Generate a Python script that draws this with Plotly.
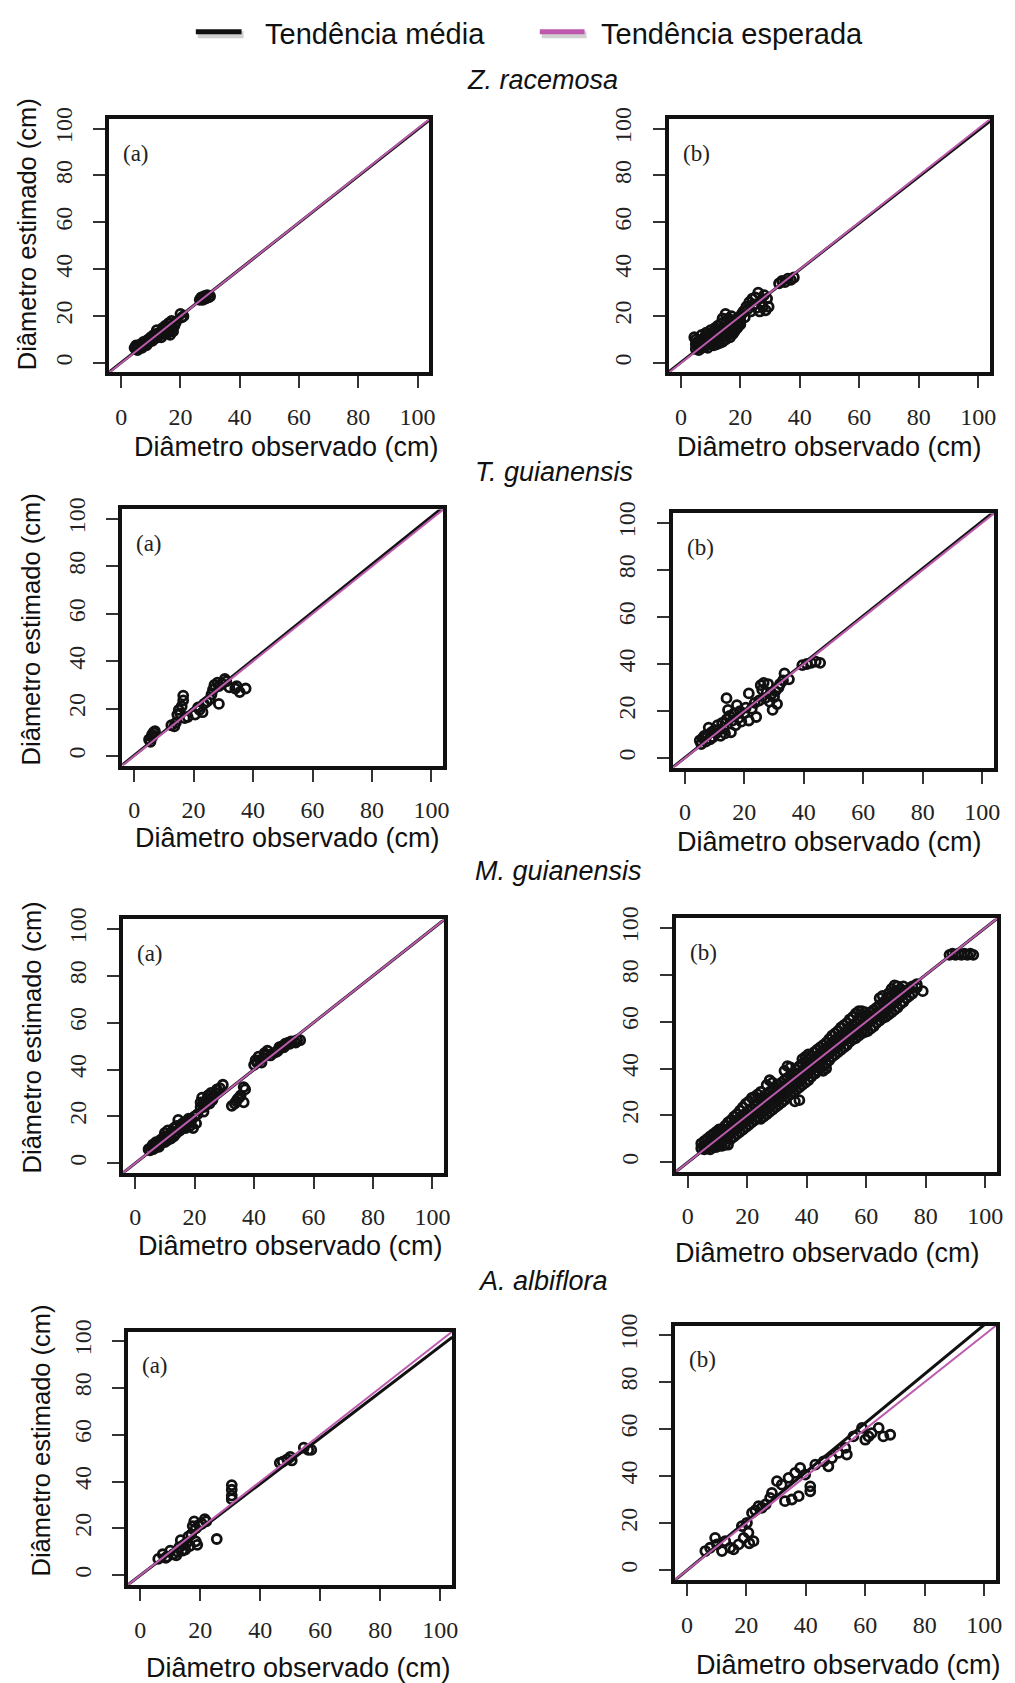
import plotly.graph_objects as go

W, H = 1015, 1683

# ---- observed vs. estimated diameter (cm), one list of (observed, estimated) per panel ----
zr_a = [(4.5, 6.5), (5, 7.5), (5.5, 5.5), (6, 7), (6.5, 8), (7, 6.5), (7.5, 9), (8, 8), (8.5, 7.5),
        (9, 10), (9.5, 9), (10, 11), (10.5, 9.5), (11, 12), (11.5, 10.5), (12, 14), (12, 11), (12.5, 12),
        (13, 13), (13.5, 11), (14, 15), (14.5, 12.5), (15, 16), (15, 13), (15.5, 14), (16, 17), (16.5, 12),
        (16.5, 15), (17, 18), (17.5, 13.5), (18, 16), (18.5, 17.5), (20, 21), (20.5, 19.5), (21, 20),
        (26.5, 27), (27, 28), (28, 28.5), (28.5, 27.5), (29, 29), (30, 28.5),
        (5, 6), (6, 6.5), (7, 8), (8, 9), (9, 8.5), (10, 10), (11, 11), (12, 12.5), (13, 12), (14, 13.5),
        (15, 14.5), (16, 15.5), (17, 16), (18, 17), (16, 13), (17, 14.5), (27.5, 27), (29.5, 28)]

zr_b = [(4.5, 11), (5, 10), (5, 8), (5, 6), (5.5, 9), (6, 7), (6, 5.5), (6.5, 10), (6.5, 8), (7, 12),
        (7, 6.5), (7.5, 9), (8, 11), (8, 7), (8.5, 13), (8.5, 8.5), (9, 10), (9, 6.5), (9.5, 12), (10, 14),
        (10, 8), (10.5, 10.5), (11, 13), (11, 7.5), (11.5, 15), (11.5, 9.5), (12, 12), (12, 8), (12.5, 16),
        (12.5, 10), (13, 14), (13, 8.5), (13.5, 17), (13.5, 11.5), (14, 19), (14, 13), (14, 9), (14.5, 15),
        (15, 21), (15, 17), (15, 10), (15.5, 12), (16, 19), (16, 14), (16.5, 11), (17, 20), (17, 16),
        (17.5, 12.5), (18, 18), (18.5, 14.5), (19, 17), (19.5, 16), (20, 18), (20.5, 21), (21, 22),
        (21.5, 19.5), (22, 24), (22.5, 23), (23, 26), (23.5, 22), (24, 27.5), (24.5, 25), (25, 28),
        (25.5, 23.5), (26, 30), (26.5, 22), (27, 26), (27.5, 24), (28, 29), (28.5, 22.5), (29, 27.5),
        (29.5, 24), (33, 34), (34, 35), (35, 34.5), (36, 36), (37, 35.5), (38, 36.5),
        (6, 9), (7, 8), (7, 10), (8, 9), (8, 8), (9, 8), (9, 12), (10, 9.5), (10, 11), (11, 10), (11, 12),
        (12, 10), (12, 14), (13, 10), (13, 12), (14, 11), (14, 15), (15, 13), (15, 15), (16, 12), (16, 16),
        (17, 13), (17, 18), (18, 15), (18, 13.5), (19, 15), (19, 19), (20, 16.5), (20, 20)]

tg_a = [(5, 7), (5.5, 6), (6, 9), (6, 8), (6.5, 10), (7, 10.5), (12.5, 13), (13.5, 12.5), (14, 14),
        (14.5, 17.5), (15, 19.5), (15.5, 18), (16, 21), (16.5, 23.5), (16.5, 25.5), (17, 16), (18, 16.5),
        (20.5, 17.5), (21.5, 20.5), (22, 19.5), (23, 18.5), (23.5, 22), (24.5, 23), (25.5, 24), (26, 26),
        (26.5, 28), (27, 30), (28, 31), (28.5, 29.5), (28.5, 22), (29.5, 30.5), (30.5, 32.5), (31, 31.5),
        (32, 29), (34, 28.5), (34.5, 29.5), (35.5, 27), (37.5, 28.5)]

tg_b = [(5, 7.5), (5.5, 6), (6, 8.5), (6.5, 9.5), (7, 7), (7.5, 10), (8, 13), (8.5, 8), (9, 11), (9.5, 9),
        (10, 12), (10.5, 10.5), (11, 14), (11.5, 12), (12, 9.5), (12.5, 15), (13, 13), (13.5, 10.5),
        (14, 16.5), (14, 25.5), (14.5, 20.5), (15, 18), (15.5, 11), (16, 16), (16.5, 19), (17, 14),
        (17.5, 22.5), (18, 17), (18.5, 20), (19, 15.5), (20, 19), (20.5, 21.5), (21.5, 27.5), (21.5, 16),
        (22.5, 21), (23.5, 23.5), (24, 17.5), (25, 24.5), (25.5, 31), (26, 29), (26.5, 32), (27, 25.5),
        (27.5, 28), (28, 31.5), (28.5, 24), (29, 27), (29.5, 20.5), (30, 26), (30.5, 28.5), (31, 23),
        (31.5, 30), (32, 31.5), (33, 33), (33.5, 36), (35, 33.5), (39.5, 39.5), (41, 40), (42.5, 40.5),
        (44, 41), (45.5, 40.5)]

mg_a = [(4.5, 6), (5, 5.5), (5.5, 7), (6, 8), (6.5, 6.5), (7, 9), (7.5, 7.5), (8, 8.5), (8.5, 10), (9, 9),
        (9.5, 11), (10, 13), (10, 10), (10.5, 11.5), (11, 14), (11.5, 12), (12, 10.5), (12.5, 13.5),
        (13, 15), (13.5, 12.5), (14, 16), (14.5, 18.5), (15, 14), (15.5, 16.5), (16, 15), (16.5, 17.5),
        (17, 16.5), (17.5, 18), (18, 19), (18.5, 16), (19, 18.5), (19.5, 15), (20, 20), (20.5, 17),
        (21, 21), (22, 24), (22.5, 28), (23, 22), (23, 26), (24, 25), (24.5, 29), (25, 27), (25.5, 30),
        (26, 28.5), (27, 30), (27.5, 31.5), (28.5, 32), (29.5, 33.5), (32.5, 24.5), (33.5, 25.5),
        (34.5, 27.5), (35.5, 29), (36.5, 26), (37, 31.5), (36.5, 32.5), (40, 42), (40.5, 44), (41.5, 45.5),
        (42.5, 43), (43.5, 47), (44.5, 48), (45.5, 46), (46.5, 47), (47.5, 47.5), (48.5, 49.5), (49.5, 50),
        (50.5, 51), (51.5, 51.5), (52.5, 52), (53.5, 52), (54.5, 52.5), (55.5, 52.5),
        (6, 6), (7, 7), (8, 7), (9, 10), (10, 9), (11, 10), (12, 13), (13, 11.5), (14, 13), (15, 15),
        (16, 17), (17, 15), (18, 17), (22, 26), (23, 24), (24, 27), (25, 25.5), (26, 27), (34, 26.5),
        (35, 28), (41, 43), (42, 44), (44, 46), (48, 48), (50, 49.5), (52, 51), (54, 51.5)]

mg_b = [(4.5, 6), (4.5, 8), (5.5, 5.5), (5.5, 7), (5.5, 9), (6.5, 6), (6.5, 8), (6.5, 10), (7.5, 5.5),
        (7.5, 7), (7.5, 9), (7.5, 11), (8.5, 6.5), (8.5, 8), (8.5, 10), (8.5, 12), (9.5, 6.5), (9.5, 9),
        (9.5, 11), (9.5, 13), (10.5, 7), (10.5, 8.5), (10.5, 10), (10.5, 12.5), (10.5, 14), (11.5, 7),
        (11.5, 9), (11.5, 11.5), (11.5, 14), (12.5, 7.5), (12.5, 10), (12.5, 12.5), (12.5, 15.5),
        (13.5, 7.5), (13.5, 11), (13.5, 14), (13.5, 17), (14.5, 10), (14.5, 13), (14.5, 15.5), (14.5, 18),
        (15.5, 11), (15.5, 14), (15.5, 17), (15.5, 19.5), (16.5, 12), (16.5, 15), (16.5, 18), (16.5, 20.5),
        (17.5, 13), (17.5, 16), (17.5, 19), (17.5, 22), (18.5, 14), (18.5, 17), (18.5, 20), (18.5, 23.5),
        (19.5, 15), (19.5, 18), (19.5, 21), (19.5, 25), (20.5, 16), (20.5, 19), (20.5, 22), (20.5, 26),
        (21.5, 17), (21.5, 20), (21.5, 23), (21.5, 27.5), (22.5, 18), (22.5, 21), (22.5, 24), (22.5, 28),
        (23.5, 19), (23.5, 22), (23.5, 25), (23.5, 29), (24.5, 18.5), (24.5, 21), (24.5, 24), (24.5, 27),
        (24.5, 30), (25.5, 19.5), (25.5, 22), (25.5, 25), (25.5, 28), (26.5, 20.5), (26.5, 23), (26.5, 26),
        (26.5, 29), (26.5, 33), (27.5, 21.5), (27.5, 24), (27.5, 27), (27.5, 30), (27.5, 35), (28.5, 22.5),
        (28.5, 25), (28.5, 28), (28.5, 31), (28.5, 34), (29.5, 23.5), (29.5, 26), (29.5, 29), (29.5, 32),
        (30.5, 24.5), (30.5, 27), (30.5, 30), (30.5, 33), (31.5, 25.5), (31.5, 28), (31.5, 31), (31.5, 34),
        (32.5, 26.5), (32.5, 29), (32.5, 32), (32.5, 35), (32.5, 39), (33.5, 28), (33.5, 30.5), (33.5, 33),
        (33.5, 36), (33.5, 41), (34.5, 29), (34.5, 31.5), (34.5, 34), (34.5, 37), (34.5, 40.5), (35.5, 30),
        (35.5, 32.5), (35.5, 35), (35.5, 38), (36.5, 31), (36.5, 34), (36.5, 37), (36.5, 39.5), (37.5, 32),
        (37.5, 35), (37.5, 38), (37.5, 41), (38.5, 33), (38.5, 36), (38.5, 39), (38.5, 42), (38.5, 44),
        (39.5, 34), (39.5, 37), (39.5, 40), (39.5, 43), (39.5, 45), (40.5, 35), (40.5, 38), (40.5, 41),
        (40.5, 44), (40.5, 46), (41.5, 36.5), (41.5, 39.5), (41.5, 42.5), (41.5, 45.5), (42.5, 38),
        (42.5, 41), (42.5, 44), (42.5, 47), (43.5, 39), (43.5, 42), (43.5, 45), (43.5, 48), (44.5, 40),
        (44.5, 43), (44.5, 46), (44.5, 49), (45.5, 41), (45.5, 44), (45.5, 47), (45.5, 50), (46.5, 42),
        (46.5, 45), (46.5, 48), (46.5, 51), (47.5, 43.5), (47.5, 46.5), (47.5, 49.5), (47.5, 52.5),
        (48.5, 45), (48.5, 48), (48.5, 51), (48.5, 54), (49.5, 46), (49.5, 49), (49.5, 52), (49.5, 55),
        (50.5, 47), (50.5, 50), (50.5, 53), (50.5, 56), (51.5, 48), (51.5, 51), (51.5, 54), (51.5, 57.5),
        (52.5, 49), (52.5, 52), (52.5, 55), (52.5, 58.5), (53.5, 50), (53.5, 53), (53.5, 56), (53.5, 59.5),
        (54.5, 51.5), (54.5, 54.5), (54.5, 57.5), (54.5, 61), (55.5, 52.5), (55.5, 55.5), (55.5, 58.5),
        (55.5, 62), (56.5, 53), (56.5, 56.5), (56.5, 59.5), (56.5, 63.5), (57.5, 54), (57.5, 57.5),
        (57.5, 61), (57.5, 64.5), (58.5, 55), (58.5, 58.5), (58.5, 62), (58.5, 64.5), (59.5, 55.5),
        (59.5, 59), (59.5, 62.5), (59.5, 64), (60.5, 56), (60.5, 59.5), (60.5, 63), (61.5, 57), (61.5, 60.5),
        (61.5, 64), (62.5, 58), (62.5, 61.5), (62.5, 65), (63.5, 59.5), (63.5, 62.5), (63.5, 66),
        (64.5, 60.5), (64.5, 63.5), (64.5, 67), (64.5, 70), (65.5, 61.5), (65.5, 64.5), (65.5, 68),
        (65.5, 71), (66.5, 62), (66.5, 65.5), (66.5, 69), (67.5, 63), (67.5, 66.5), (67.5, 70), (67.5, 72),
        (68.5, 64), (68.5, 67.5), (68.5, 71), (68.5, 74), (69.5, 65), (69.5, 68.5), (69.5, 72), (69.5, 75.5),
        (70.5, 66), (70.5, 69.5), (70.5, 73), (70.5, 75), (71.5, 67.5), (71.5, 71), (71.5, 74), (72.5, 68.5),
        (72.5, 72), (72.5, 75), (73.5, 70), (73.5, 73), (74.5, 71), (74.5, 74), (75.5, 72), (75.5, 75),
        (77, 74.5), (77, 76), (79, 73), (36, 26), (37.5, 26.5), (42.8, 37.8), (45.5, 39), (46.5, 40),
        (88, 88.5), (89, 89), (90, 88.5), (91, 89), (92, 88.5), (93, 89), (94, 88.5), (95, 89), (96, 88.5)]

aa_a = [(6, 7), (7.5, 9), (8.5, 7.5), (9, 8), (10, 10.5), (11, 9), (12, 8.5), (12.5, 10), (13, 12),
        (13.5, 15), (14, 10.5), (14.5, 13), (15, 11), (15.5, 14), (16, 16.5), (16.5, 12.5), (17, 17.5),
        (17.5, 21), (18, 23), (18.5, 20), (18.5, 14.5), (19, 13), (19.5, 21.5), (20.5, 22), (21.5, 24),
        (22, 23), (25.5, 15.5), (30.5, 32.5), (30.5, 34), (30.5, 36.5), (30.5, 38.5), (46.5, 48),
        (47.5, 48.5), (49, 49.5), (50, 50.5), (50.5, 49), (54.5, 54.5), (56, 53.5), (57, 53.5)]

aa_b = [(6.2, 8.2), (7.8, 9.6), (9.5, 13.8), (10.1, 11), (11.8, 8.2), (12.9, 12.4), (14.6, 9.6),
        (15.7, 8.9), (17.4, 11), (19.1, 13.8), (20.7, 16), (22.4, 12.4), (21, 11.5), (18.5, 18.8),
        (20.2, 20.2), (21.9, 24.4), (23, 25.5), (24.1, 27.3), (25.2, 26.6), (26.5, 28), (28, 30.8),
        (28.6, 32.9), (30.3, 37.9), (31.9, 36.4), (33, 29.4), (35.3, 30.1), (34.2, 39.3), (36.4, 41.4),
        (37.6, 31.5), (38.1, 43.5), (39.8, 40.7), (41.5, 35.7), (41.5, 33.6), (43.2, 44.9), (46, 46.3),
        (47.6, 44.2), (48.8, 47.7), (51, 49.9), (53.3, 52), (53.8, 49.2), (56, 56.9), (58.9, 60.5),
        (60, 55.5), (61.1, 56.9), (62.2, 58.3), (64.5, 60.5), (66.1, 56.9), (68.4, 57.6)]

# fitted trend (intercept, slope) per panel
fit_intercept = [0.2, 0.3, 0.3, 0.2, 0.0, 0.0, 0.0, 0.0]
fit_slope = [0.995, 0.99, 1.007, 1.005, 1.0, 1.0, 0.977, 1.043]

species = ["Z. racemosa", "T. guianensis", "M. guianensis", "A. albiflora"]
panel_tags = ["(a)", "(b)"]
ticks = [0, 20, 40, 60, 80, 100]
axis_range = [-4, 104]

series = [zr_a, zr_b, tg_a, tg_b, mg_a, mg_b, aa_a, aa_b]

# subplot boxes in pixels: left, top, right, bottom
boxes = [(110, 108, 432, 363), (673, 108, 996, 363),
         (123, 501, 446, 759), (677, 505, 1000, 761),
         (124, 914, 447, 1169), (680, 913, 1003, 1168),
         (129, 1329, 455, 1584), (679, 1323, 1002, 1579)]
# x-title centres (px) and y-title centres for the left column
xtitle_pos = [(288, 438), (834, 438), (289, 832), (834, 836),
              (292, 1243), (832, 1250), (300, 1668), (854, 1665)]
ytitle_pos = [(28, 224), (31, 622), (32, 1033), (41, 1439)]
species_pos = [(546, 68), (557, 463), (562, 865), (546, 1278)]

BLACK = "#111111"
PINK = "#bd5aad"
SANS = "Liberation Sans, Arial, sans-serif"
SERIF = "Liberation Serif, Times New Roman, serif"


def px(x):
    return x / W


def py(y):
    return 1 - y / H


fig = go.Figure()
annotations = []
shapes = []

for i, pts in enumerate(series):
    n = i + 1
    xa = "x" if n == 1 else f"x{n}"
    ya = "y" if n == 1 else f"y{n}"
    L, T, R, B = boxes[i]
    obs = [p[0] for p in pts]
    est = [p[1] for p in pts]

    fig.add_trace(go.Scatter(
        x=obs, y=est, mode="markers", xaxis=xa, yaxis=ya, showlegend=False,
        marker=dict(symbol="circle-open", size=9, color=BLACK, line=dict(width=2.8, color=BLACK)),
        cliponaxis=False))

    a, b = fit_intercept[i], fit_slope[i]
    fig.add_trace(go.Scatter(
        x=axis_range, y=[a + b * v for v in axis_range], mode="lines", xaxis=xa, yaxis=ya,
        showlegend=False, line=dict(color=BLACK, width=3)))
    fig.add_trace(go.Scatter(
        x=axis_range, y=axis_range, mode="lines", xaxis=xa, yaxis=ya,
        showlegend=False, line=dict(color=PINK, width=2)))

    ax_common = dict(range=axis_range, tickvals=ticks, ticktext=[str(t) for t in ticks],
                     showgrid=False, zeroline=False, showline=True, mirror=True,
                     linecolor=BLACK, linewidth=4, ticks="outside", ticklen=12, tickwidth=1.5,
                     tickcolor="#333333", tickfont=dict(family=SERIF, size=24, color="#222222"))
    fig.update_layout(**{
        ("xaxis" if n == 1 else f"xaxis{n}"): dict(domain=[px(L), px(R)], anchor=ya,
                                                  ticklabelstandoff=8, **ax_common),
        ("yaxis" if n == 1 else f"yaxis{n}"): dict(domain=[py(B), py(T)], anchor=xa, tickangle=-90,
                                                  ticklabelstandoff=12, **ax_common),
    })

    annotations.append(dict(x=0, y=89.5, xref=xa, yref=ya, text=panel_tags[i % 2], showarrow=False,
                            xanchor="left", yanchor="middle",
                            font=dict(family=SERIF, size=23, color="#222222")))
    cx, cy = xtitle_pos[i]
    annotations.append(dict(x=px(cx), y=py(cy), xref="paper", yref="paper",
                            text="Diâmetro observado (cm)", showarrow=False,
                            xanchor="center", yanchor="middle",
                            font=dict(family=SANS, size=27, color="#111111")))
    if i % 2 == 0:
        tx, ty = ytitle_pos[i // 2]
        annotations.append(dict(x=px(tx), y=py(ty), xref="paper", yref="paper",
                                text="Diâmetro estimado (cm)", showarrow=False, textangle=-90,
                                xanchor="center", yanchor="middle",
                                font=dict(family=SANS, size=25.5, color="#111111")))

for name, (sx, sy) in zip(species, species_pos):
    annotations.append(dict(x=px(sx), y=py(sy), xref="paper", yref="paper",
                            text=f"<i>{name}</i>", showarrow=False,
                            xanchor="center", yanchor="middle",
                            font=dict(family=SANS, size=27, color="#111111")))

# legend keys with a soft drop shadow
legend_items = [("Tendência média", BLACK, 197, 243, 265), ("Tendência esperada", PINK, 543, 588, 603)]
for label, color, x0, x1, tx in legend_items:
    shapes.append(dict(type="line", xref="paper", yref="paper", x0=px(x0 + 2), x1=px(x1 + 2),
                       y0=py(23), y1=py(23), line=dict(color="rgba(0,0,0,0.18)", width=7)))
    shapes.append(dict(type="line", xref="paper", yref="paper", x0=px(x0), x1=px(x1),
                       y0=py(20), y1=py(20), line=dict(color=color, width=5)))
    annotations.append(dict(x=px(tx), y=py(22), xref="paper", yref="paper", text=label,
                            showarrow=False, xanchor="left", yanchor="middle",
                            font=dict(family=SANS, size=29, color="#111111")))

fig.update_layout(width=W, height=H, margin=dict(l=0, r=0, t=0, b=0),
                  paper_bgcolor="white", plot_bgcolor="white",
                  annotations=annotations, shapes=shapes, showlegend=False)

fig.write_html("out.html")
